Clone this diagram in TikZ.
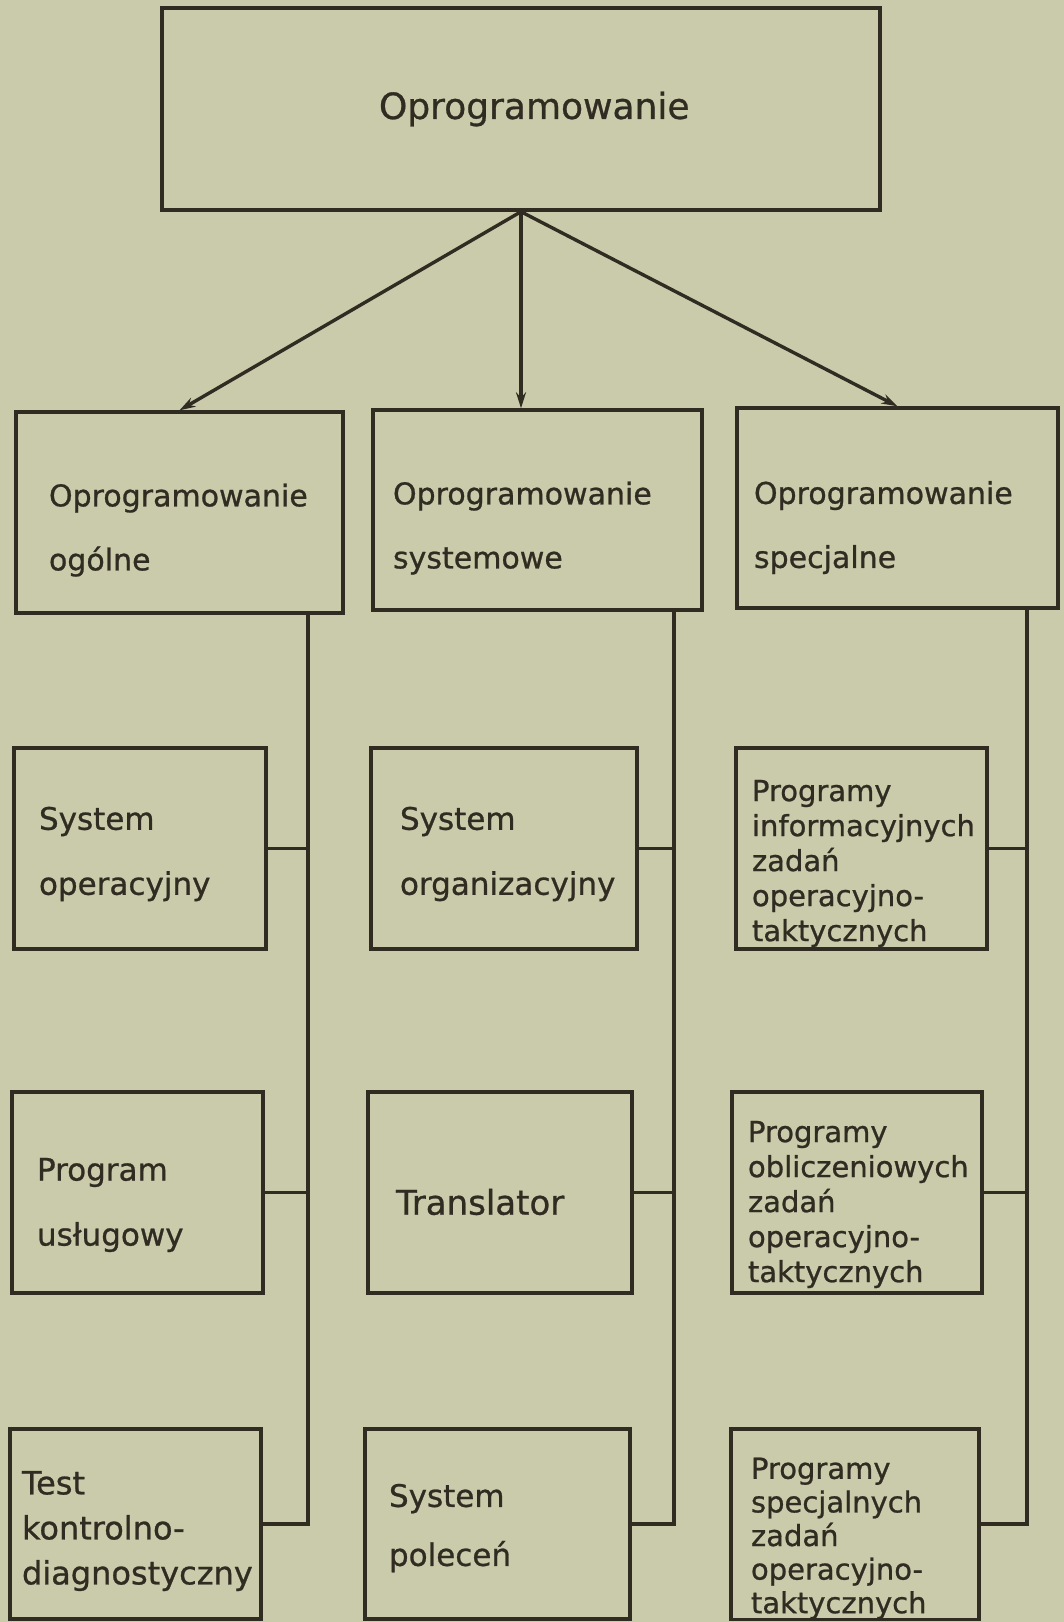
\documentclass[tikz,border=0pt]{standalone}
\usepackage{fontspec}
\setmainfont{DejaVu Sans}[FakeBold=0.8]
\usepackage{xcolor}
\usetikzlibrary{arrows.meta, positioning}

\definecolor{paper}{RGB}{202,203,171}
\definecolor{ink}{RGB}{48,44,34}

\tikzset{
    box/.style={draw=ink, line width=1.7pt, align=left, inner ysep=0pt, text=ink},
    twoline/.style={font=\fontsize{15.5}{32.5}\selectfont},
    fiveline/.style={font=\fontsize{14.5}{17.5}\selectfont},
    link/.style={draw=ink, line width=1.7pt},
    arr/.style={link, -{Stealth[length=8pt, width=5pt]}}
}

\begin{document}
\begin{tikzpicture}[x=1pt, y=-1pt]

    % Paper
    \fill[paper] (0,0) rectangle (532,811);

    % Root
    \node[box, minimum height=101pt, inner xsep=108.5pt, text width=142pt,
          font=\fontsize{18}{21}\selectfont] (root) at (260.5,54.5) {Oprogramowanie};

    % Second level
    \node[box, minimum height=100.5pt, inner xsep=16.5pt, text width=130.5pt, text height=29pt,
          font=\fontsize{15}{32}\selectfont] (gen) at (89.75,256.25) {Oprogramowanie\\ogólne};
    \node[box, minimum height=100pt, inner xsep=10pt, text width=144.5pt, text height=29.5pt,
          font=\fontsize{15}{32}\selectfont] (sys) at (268.75,255) {Oprogramowanie\\systemowe};
    \node[box, minimum height=100pt, inner xsep=8.5pt, text width=143.5pt, text height=31pt,
          font=\fontsize{15}{32}\selectfont] (spec) at (448.75,254) {Oprogramowanie\\specjalne};

    % Arrows from the root
    \draw[arr] (root.south) -- (gen.north);
    \draw[arr] (root.south) -- (root.south |- sys.north);
    \draw[arr] (root.south) -- (spec.north);

    % Left column
    \node[box, twoline, minimum height=100.5pt, inner xsep=12.5pt, text width=101pt, text height=17pt]
        (sysop) at (70,424.25) {System\\operacyjny};
    \node[box, twoline, minimum height=100.5pt, inner xsep=12.5pt, text width=100.5pt, text height=23.8pt]
        (prgusl) at (68.75,596.25) {Program\\usługowy};
    \node[box, minimum height=95pt, inner xsep=6pt, text width=113.5pt, text height=18.7pt,
          font=\fontsize{16}{22.5}\selectfont]
        (test) at (67.75,762) {Test\\kontrolno-\\diagnostyczny};

    % Middle column
    \node[box, twoline, minimum height=100.5pt, inner xsep=14.5pt, text width=104pt, text height=17pt]
        (sysorg) at (252,424.25) {System\\organizacyjny};
    \node[box, minimum height=100.5pt, inner xsep=14pt, text width=104pt, text height=22.4pt,
          font=\fontsize{17}{21}\selectfont]
        (transl) at (250,596.25) {Translator};
    \node[box, minimum height=95pt, inner xsep=12pt, text width=108.5pt, text height=15.6pt,
          font=\fontsize{15.5}{29.5}\selectfont]
        (polec) at (248.75,762) {System\\poleceń};

    % Right column
    \node[box, fiveline, minimum height=100.5pt, inner xsep=8pt, text width=109.5pt, text height=25.6pt]
        (infprog) at (430.75,424.25) {Programy\\informacyjnych\\zadań\\operacyjno-\\taktycznych};
    \node[box, fiveline, minimum height=100.5pt, inner xsep=8pt, text width=109pt, text height=22.6pt]
        (oblprog) at (428.5,596.25) {Programy\\obliczeniowych\\zadań\\operacyjno-\\taktycznych};
    \node[box, minimum height=95pt, inner xsep=10pt, text width=104pt, text height=25pt,
          font=\fontsize{14.5}{16.8}\selectfont]
        (specprog) at (427.5,762) {Programy\\specjalnych\\zadań\\operacyjno-\\taktycznych};

    % Spines
    \coordinate (spineA) at (154,0);
    \coordinate (spineB) at (337,0);
    \coordinate (spineC) at (513.5,0);

    \draw[link] (gen.south -| spineA) |- (test.east);
    \draw[link] (sysop.east) -- (sysop.east -| spineA);
    \draw[link] (prgusl.east) -- (prgusl.east -| spineA);

    \draw[link] (sys.south -| spineB) |- (polec.east);
    \draw[link] (sysorg.east) -- (sysorg.east -| spineB);
    \draw[link] (transl.east) -- (transl.east -| spineB);

    \draw[link] (spec.south -| spineC) |- (specprog.east);
    \draw[link] (infprog.east) -- (infprog.east -| spineC);
    \draw[link] (oblprog.east) -- (oblprog.east -| spineC);

\end{tikzpicture}
\end{document}
